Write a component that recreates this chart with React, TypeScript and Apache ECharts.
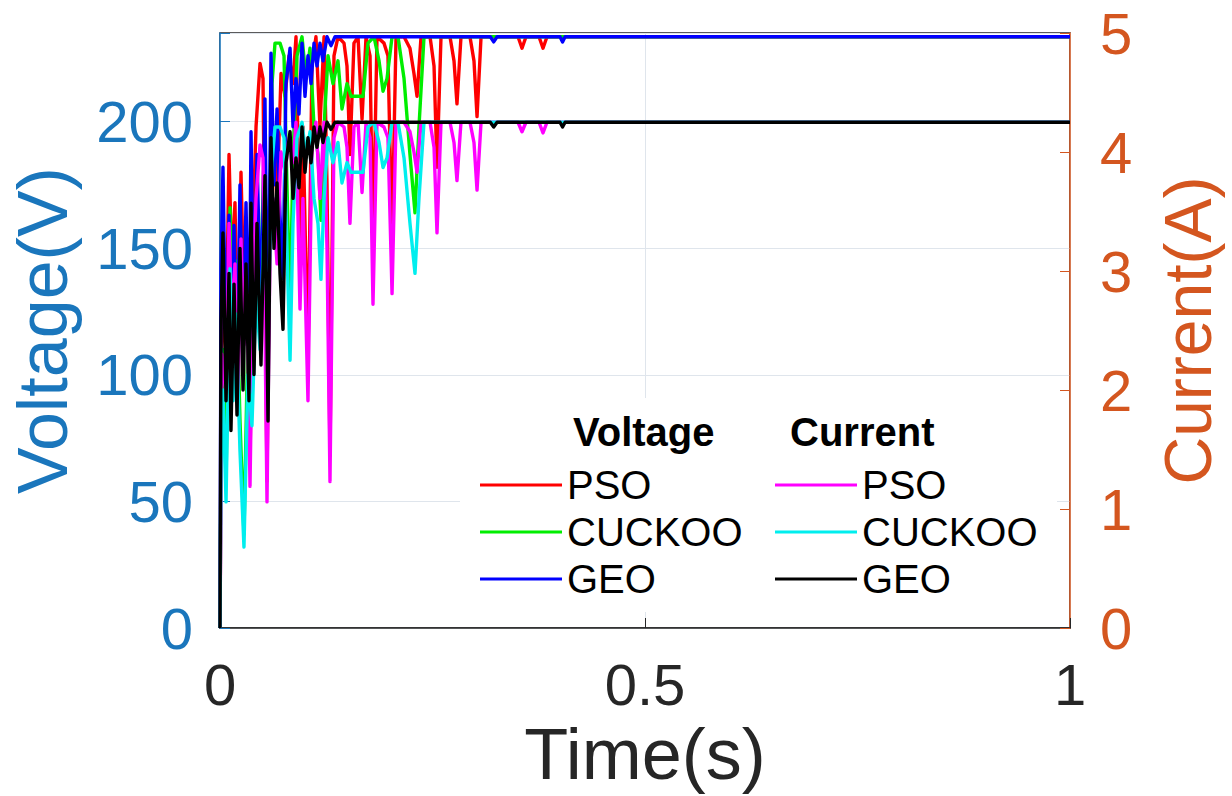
import React, { useEffect, useRef } from 'react';
import * as echarts from 'echarts';

// ---------- data (time in s, voltage in V, current in A) ----------
const psoT = [0, 0.0024, 0.0071, 0.0106, 0.0141, 0.0176, 0.0212, 0.0247, 0.0282, 0.0318, 0.0353, 0.0388, 0.0424, 0.0471, 0.0506, 0.0529, 0.0553, 0.0588, 0.0624, 0.0671, 0.0718, 0.0765, 0.0812, 0.0859, 0.0894, 0.0941, 0.0976, 0.1035, 0.1082, 0.1129, 0.1176, 0.1224, 0.1259, 0.1294, 0.1341, 0.1388, 0.1459, 0.1494, 0.1529, 0.1576, 0.1624, 0.1671, 0.1718, 0.1765, 0.18, 0.1847, 0.1929, 0.1976, 0.2024, 0.2071, 0.2165, 0.2235, 0.2282, 0.2318, 0.2365, 0.2471, 0.2518, 0.2553, 0.26, 0.2706, 0.2753, 0.2788, 0.2835, 0.2941, 0.2988, 0.3024, 0.3071, 0.3506, 0.3553, 0.36, 0.3753, 0.38, 0.3847, 1.0];
const psoV = [0, 126, 110, 187, 140, 168, 105, 180, 131, 154, 65, 159, 198, 223, 217, 140, 58, 175, 198, 168, 219, 210, 226, 215, 233.5, 147, 198, 105, 222, 233.5, 198, 233.5, 175, 68, 226, 233.5, 231, 222, 187, 231, 233.5, 201, 233.5, 226, 149, 233.5, 231, 226, 154, 233.5, 233.5, 229, 219, 210, 233.5, 233.5, 222, 182, 233.5, 233.5, 224, 207, 233.5, 233.5, 224, 202, 233.5, 233.5, 229, 233.5, 233.5, 229, 233.5, 233.5];
const psoI = [0, 2.30, 2.00, 3.40, 2.55, 3.06, 1.91, 3.27, 2.38, 2.81, 1.19, 2.89, 3.61, 4.06, 3.95, 2.55, 1.06, 3.19, 3.61, 3.06, 4.00, 3.83, 4.12, 3.91, 4.25, 2.68, 3.61, 1.91, 4.04, 4.25, 3.61, 4.25, 3.19, 1.23, 4.12, 4.25, 4.21, 4.04, 3.40, 4.21, 4.25, 3.66, 4.25, 4.12, 2.72, 4.25, 4.21, 4.12, 2.81, 4.25, 4.25, 4.17, 4.00, 3.83, 4.25, 4.25, 4.04, 3.32, 4.25, 4.25, 4.08, 3.76, 4.25, 4.25, 4.08, 3.68, 4.25, 4.25, 4.17, 4.25, 4.25, 4.16, 4.25, 4.25];

const cuckooT = [0, 0.0012, 0.0035, 0.0071, 0.0118, 0.0153, 0.0188, 0.0235, 0.0282, 0.0329, 0.0376, 0.0424, 0.0471, 0.0518, 0.0565, 0.0612, 0.0647, 0.0706, 0.0753, 0.0788, 0.0824, 0.0859, 0.0906, 0.0965, 0.1012, 0.1059, 0.1106, 0.1153, 0.1188, 0.1224, 0.1271, 0.1329, 0.1388, 0.1435, 0.1494, 0.1541, 0.1612, 0.1682, 0.1741, 0.1812, 0.1871, 0.1918, 0.1965, 0.2024, 0.2094, 0.2165, 0.2235, 0.2294, 0.2341, 0.24, 1.0];
const cuckooV = [0, 77, 110, 58, 166, 105, 145, 82, 37, 117, 93, 154, 128, 187, 140, 215, 231, 231, 226, 175, 124, 187, 226, 233.5, 217, 229, 198, 187, 161, 198, 226, 215, 224, 205, 215, 210, 210, 210, 231, 233.5, 224, 212, 217, 233.5, 233.5, 217, 187, 164, 198, 233.5, 233.5];
const cuckooI = [0, 1.40, 2.00, 1.06, 3.02, 1.91, 2.64, 1.49, 0.68, 2.13, 1.70, 2.81, 2.34, 3.40, 2.55, 3.91, 4.21, 4.21, 4.12, 3.19, 2.25, 3.40, 4.12, 4.25, 3.95, 4.17, 3.61, 3.40, 2.93, 3.61, 4.12, 3.91, 4.08, 3.74, 3.91, 3.83, 3.83, 3.83, 4.21, 4.25, 4.08, 3.87, 3.95, 4.25, 4.25, 3.95, 3.40, 2.98, 3.61, 4.25, 4.25];

const geoT = [0, 0.0012, 0.0035, 0.0071, 0.0106, 0.0129, 0.0165, 0.02, 0.0235, 0.0271, 0.0306, 0.0341, 0.0365, 0.04, 0.0435, 0.0482, 0.0529, 0.0565, 0.06, 0.0635, 0.0671, 0.0706, 0.0741, 0.0776, 0.0824, 0.0859, 0.0894, 0.0929, 0.0965, 0.1, 0.1035, 0.1071, 0.1106, 0.1141, 0.1176, 0.1212, 0.1259, 0.1306, 0.1353, 0.318, 0.322, 0.326, 0.40, 0.403, 0.406, 1.0];
const geoV = [0, 142, 182, 105, 163, 91, 159, 98, 175, 110, 168, 105, 196, 117, 187, 121, 209, 96, 227, 175, 205, 163, 138, 215, 229, 198, 217, 203, 231, 210, 226, 215, 231, 222, 231, 224, 233.5, 230, 233.5, 233.5, 231.5, 233.5, 233.5, 231.5, 233.5, 233.5];
const geoI = [0, 2.59, 3.32, 1.91, 2.98, 1.66, 2.89, 1.79, 3.19, 2.00, 3.06, 1.91, 3.57, 2.13, 3.40, 2.21, 3.80, 1.74, 4.12, 3.19, 3.74, 2.98, 2.51, 3.91, 4.17, 3.61, 3.95, 3.70, 4.21, 3.83, 4.12, 3.91, 4.21, 4.04, 4.21, 4.08, 4.25, 4.19, 4.25, 4.25, 4.21, 4.25, 4.25, 4.21, 4.25, 4.25];

const xTicks = { min: 0, max: 1, interval: 0.5 };
const voltageAxis = { min: 0, max: 235, interval: 50 };
const currentAxis = { min: 0, max: 5, interval: 1 };

const algorithms = ['PSO', 'CUCKOO', 'GEO'];
const voltageColors = ['#ff0000', '#00ee00', '#0000ff'];
const currentColors = ['#ff00ff', '#00eeee', '#000000'];

const FONT = '"Liberation Sans", Arial, sans-serif';
const LEFT_COLOR = '#1a76bc';
const RIGHT_COLOR = '#d4561f';
const DARK = '#262626';
const LEGEND_ICON = 'path://M0,0L0,0M0,5.5L82,5.5L82,8.5L0,8.5ZM0,14L0,14';

const pair = (t: number[], v: number[]) => t.map((x, i) => [x, v[i]]);

export default function App() {
  const ref = useRef<HTMLDivElement>(null);

  useEffect(() => {
    document.body.style.margin = '0';
    if (!ref.current) return;
    const chart = echarts.init(ref.current, null, { renderer: 'svg' });

    const vData = [pair(psoT, psoV), pair(cuckooT, cuckooV), pair(geoT, geoV)];
    const iData = [pair(psoT, psoI), pair(cuckooT, cuckooI), pair(geoT, geoI)];

    const series: any[] = [];
    algorithms.forEach((a, k) => {
      series.push({
        name: a + '-V',
        type: 'line',
        yAxisIndex: 0,
        data: vData[k],
        symbol: 'none',
        showSymbol: false,
        lineStyle: { width: 3.4, color: voltageColors[k], join: 'round' },
        itemStyle: { color: voltageColors[k] },
        z: 2,
      });
    });
    algorithms.forEach((a, k) => {
      series.push({
        name: a + '-I',
        type: 'line',
        yAxisIndex: 1,
        data: iData[k],
        symbol: 'none',
        showSymbol: false,
        lineStyle: { width: 3.4, color: currentColors[k], join: 'round' },
        itemStyle: { color: currentColors[k] },
        z: 3,
      });
    });

    const legendCommon = {
      orient: 'vertical',
      top: 460,
      icon: LEGEND_ICON,
      itemWidth: 82,
      itemHeight: 14,
      itemGap: 7,
      selectedMode: false,
      formatter: (n: string) => n.split('-')[0],
      textStyle: { fontSize: 40, lineHeight: 40, color: '#000', fontFamily: FONT },
    };

    chart.setOption({
      animation: false,
      backgroundColor: '#ffffff',
      textStyle: { fontFamily: FONT },
      grid: {
        left: 220, right: 162, top: 33, bottom: 168,
        containLabel: false, outerBoundsMode: 'none',
        show: true, borderColor: DARK, borderWidth: 1.5, backgroundColor: 'transparent',
      },
      xAxis: {
        type: 'value', ...xTicks,
        name: 'Time(s)', nameLocation: 'middle', nameGap: 62,
        nameTextStyle: { fontSize: 72, color: DARK, fontFamily: FONT },
        axisLine: { show: true, lineStyle: { color: DARK, width: 1.5 } },
        axisTick: { show: true, inside: true, length: 10, lineStyle: { color: DARK } },
        axisLabel: { fontSize: 58, color: DARK, margin: 27, fontFamily: FONT },
        splitLine: { show: true, lineStyle: { color: '#dfe5ec', width: 1 } },
      },
      yAxis: [
        {
          type: 'value', position: 'left', ...voltageAxis,
          name: 'Voltage(V)', nameLocation: 'middle', nameGap: 142,
          nameTextStyle: { fontSize: 70, color: LEFT_COLOR, fontFamily: FONT },
          axisLine: { show: true, lineStyle: { color: LEFT_COLOR, width: 1.5 } },
          axisTick: { show: true, inside: true, length: 10, lineStyle: { color: LEFT_COLOR } },
          axisLabel: {
            fontSize: 58, color: LEFT_COLOR, margin: 27, fontFamily: FONT,
            formatter: (v: number) => (v % 50 === 0 ? String(v) : ''),
          },
          splitLine: { show: true, lineStyle: { color: '#dfe5ec', width: 1 } },
        },
        {
          type: 'value', position: 'right', ...currentAxis,
          name: 'Current(A)', nameLocation: 'middle', nameGap: 85,
          nameTextStyle: { fontSize: 66, color: RIGHT_COLOR, fontFamily: FONT },
          axisLine: { show: true, lineStyle: { color: RIGHT_COLOR, width: 1.5 } },
          axisTick: { show: true, inside: true, length: 10, lineStyle: { color: RIGHT_COLOR } },
          axisLabel: { fontSize: 58, color: RIGHT_COLOR, margin: 30, fontFamily: FONT },
          splitLine: { show: false },
        },
      ],
      legend: [
        { ...legendCommon, left: 475, data: algorithms.map((a) => a + '-V') },
        { ...legendCommon, left: 770, data: algorithms.map((a) => a + '-I') },
      ],
      graphic: [
        {
          type: 'rect', z: 1, silent: true,
          shape: { x: 460, y: 398, width: 597, height: 214 },
          style: { fill: '#ffffff' },
        },
        {
          type: 'text', z: 10, x: 573, y: 432,
          style: { text: 'Voltage', font: 'bold 40px ' + FONT, fill: '#000', verticalAlign: 'middle' },
        },
        {
          type: 'text', z: 10, x: 790, y: 432,
          style: { text: 'Current', font: 'bold 40px ' + FONT, fill: '#000', verticalAlign: 'middle' },
        },
      ],
      series,
    });

    return () => chart.dispose();
  }, []);

  return <div ref={ref} style={{ width: 1232, height: 796 }} />;
}
